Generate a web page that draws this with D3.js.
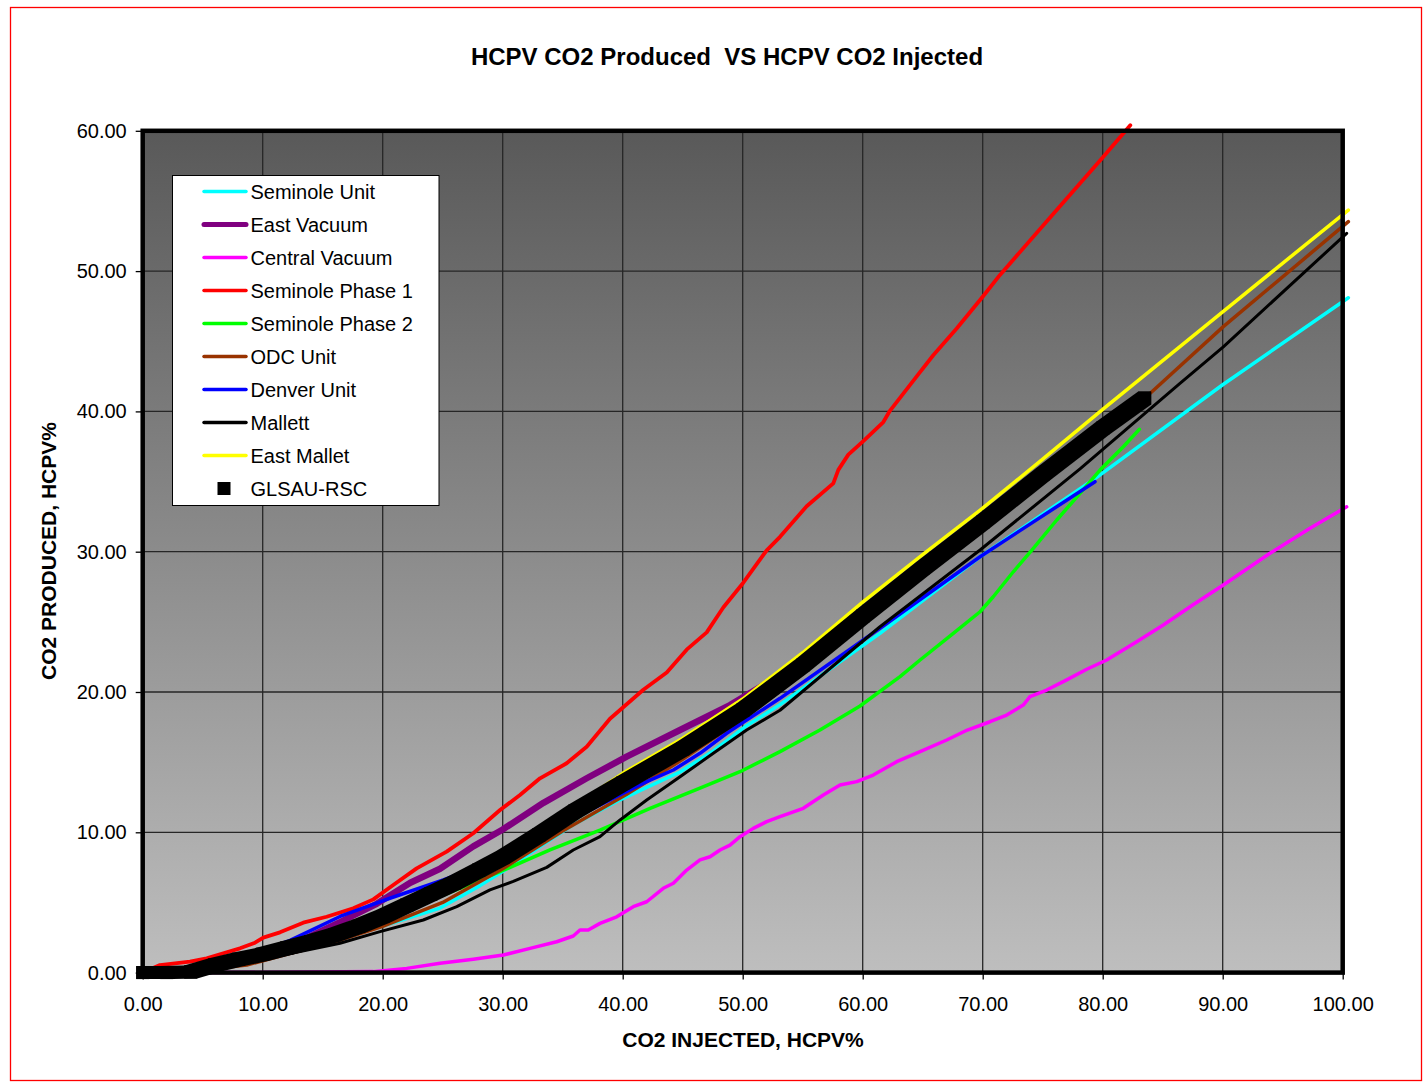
<!DOCTYPE html>
<html>
<head>
<meta charset="utf-8">
<script src="https://cdn.jsdelivr.net/npm/d3@7/dist/d3.min.js"></script>
<style>
  html, body { margin: 0; padding: 0; background: #ffffff; }
  svg { display: block; }
  text { font-family: "Liberation Sans", Arial, Helvetica, sans-serif; fill: #000; }
</style>
</head>
<body>
<svg id="chart" width="1427" height="1083"></svg>
<script>
// ---- series values: [CO2 injected %HCPV, CO2 produced %HCPV] ----
const seminoleUnit = [[0,0],[4,0.05],[8,0.8],[12,1.5],[16,2.4],[19.78,3.27],[24.78,4.6],[28.11,6.2],[30,7.2],[33.67,9.3],[36,10.6],[39.5,12.2],[44.78,14.3],[47.55,15.8],[50.33,17.6],[53.11,19.1],[61.44,24.18],[69.78,29.64],[79.5,35.3],[90,41.9],[100.47,48.1]];
const eastVacuum = [[0,0],[4,0.1],[8,0.9],[12,1.8],[16.44,3.6],[19.5,4.9],[22.3,6.4],[24.78,7.4],[27.55,9.0],[30,10.2],[33.4,12.1],[37,13.85],[40.33,15.39],[44.78,17.29],[48.94,19.07],[52,20.62],[54.5,21.7]];
const centralVacuum = [[0,0],[6.5,0],[19.2,0.07],[22,0.3],[24.78,0.66],[27.55,0.95],[30.05,1.25],[32.28,1.73],[34.5,2.2],[35.88,2.61],[36.44,3.04],[37.13,3.04],[38.11,3.51],[39.5,3.98],[40.88,4.7],[42,5.05],[43.38,6.01],[44.22,6.37],[45.33,7.31],[46.44,8.03],[47.28,8.26],[48.11,8.74],[48.94,9.09],[49.78,9.69],[50.88,10.28],[52,10.76],[53.11,11.11],[55.05,11.71],[56.72,12.66],[58.11,13.37],[59.5,13.61],[60.88,14.08],[62.83,15.03],[64.78,15.75],[67,16.58],[68.72,17.29],[70.61,17.88],[72,18.36],[73.38,19.07],[73.94,19.67],[75.33,20.14],[77,20.86],[78.67,21.62],[80.33,22.28],[82.83,23.58],[85.05,24.78],[87.5,26.2],[90.05,27.63],[93.94,29.89],[97.28,31.67],[100.33,33.2]];
const seminolePhase1 = [[0,0],[1.44,0.54],[3.94,0.78],[5.33,1.02],[8.11,1.73],[9.36,2.13],[10.05,2.49],[11.44,2.87],[13.38,3.56],[15.33,3.98],[17.55,4.58],[19.22,5.22],[20.88,6.24],[22.83,7.43],[25.33,8.62],[27.55,9.93],[29.78,11.59],[31.44,12.66],[33.11,13.85],[35.33,14.92],[37,16.1],[38.94,18.09],[41.72,20.16],[43.67,21.39],[45.33,23.02],[47,24.25],[48.38,26.02],[50.05,27.79],[52,30.1],[53.11,31.06],[55.33,33.24],[57.55,34.87],[57.97,35.83],[58.8,36.92],[60.05,37.88],[61.72,39.24],[62.28,40.06],[64.5,42.5],[65.88,44.0],[67.83,45.91],[70.05,48.23],[71.44,49.73],[76,54.2],[80,58.1],[82.3,60.4]];
const seminolePhase2 = [[0,0],[4,0.05],[10,1.2],[15,2.4],[20,3.9],[25,5.5],[29.78,7.19],[33.94,8.74],[38.11,10.16],[42.28,11.71],[46.44,13.14],[49.78,14.32],[53.11,15.75],[56.44,17.29],[59.78,19.0],[63.11,21.09],[64.78,22.28],[67.55,24.18],[69.78,25.72],[70.88,26.79],[72.55,28.57],[74.22,30.24],[76.17,32.26],[78.11,34.16],[79.78,35.82],[81.72,37.48],[83.05,38.72]];
const odcUnit = [[0,0],[4,0.1],[8.67,0.54],[12,1.3],[16,2.2],[20,3.3],[25,5.0],[30,7.4],[35,10.1],[40.3,12.7],[45,15.2],[50,18.1],[55,21.3],[60,24.8],[65,28.2],[70,31.5],[75,34.9],[80,38.3],[84.1,41.4],[90.05,46.04],[100.47,53.52]];
const denverUnit = [[0,0],[4,0.1],[8,0.9],[12.28,2.3],[16.44,4.0],[20.6,5.3],[25.05,6.6],[30,8.2],[35,10.6],[40.05,12.78],[42,13.61],[44.22,14.44],[46.44,15.63],[48.67,17.06],[50.33,18.0],[53.11,19.55],[61.44,24.54],[69.78,29.64],[79.36,34.99]];
const mallett = [[0,0],[4.3,0],[8,0.6],[12,1.3],[16.44,2.09],[19.78,2.92],[23.38,3.75],[26.17,4.7],[28.94,5.89],[30.88,6.5],[33.67,7.5],[35.88,8.74],[38.11,9.69],[39.78,10.88],[42,12.3],[44.78,13.96],[47.55,15.63],[50.33,17.29],[53.11,18.7],[61.44,24.65],[69.78,30.12],[78.11,35.9],[86.44,42.0],[90.05,44.6],[100.33,52.69]];
const eastMallet = [[0,0],[4,0.15],[8,1.2],[10.05,1.65],[15,2.8],[20,4.3],[25,6.3],[30,8.5],[35,11.3],[40,14.2],[45,16.7],[50,19.5],[55,22.8],[60,26.4],[65,29.8],[70,33.1],[75,36.6],[80,40.15],[90,47.1],[100.47,54.35]];
const glsauRsc = [[0,0],[2,0],[4,0.05],[6,0.55],[8,0.95],[10,1.3],[12,1.75],[14,2.2],[16,2.7],[18,3.3],[20,4.0],[22,4.8],[24,5.6],[26,6.4],[28,7.3],[30,8.2],[33,9.8],[36,11.5],[40,13.5],[45,15.95],[50,18.7],[55,21.9],[60,25.4],[65,28.8],[70,32.1],[75,35.5],[80,38.8],[83.5,40.95]];

const seriesNames = ["Seminole Unit","East Vacuum","Central Vacuum","Seminole Phase 1","Seminole Phase 2","ODC Unit","Denver Unit","Mallett","East Mallet","GLSAU-RSC"];
const seriesColors = ["#00ffff","#800080","#ff00ff","#ff0000","#00ff00","#993300","#0000ff","#000000","#ffff00","#000000"];
const seriesData = [seminoleUnit,eastVacuum,centralVacuum,seminolePhase1,seminolePhase2,odcUnit,denverUnit,mallett,eastMallet,glsauRsc];
const seriesWidths = [3.5,6.5,3.5,3.8,3.5,3.5,3.5,3,3.5,0];

const xTickValues = [0,10,20,30,40,50,60,70,80,90,100];
const yTickValues = [0,10,20,30,40,50,60];

const titleText = "HCPV CO2 Produced  VS HCPV CO2 Injected";
const xTitle = "CO2 INJECTED, HCPV%";
const yTitle = "CO2 PRODUCED, HCPV%";

// ---- layout ----
const svg = d3.select("#chart");
const plot = { left: 142.7, right: 1342.7, top: 130.8, bottom: 972.6 };
const x = d3.scaleLinear().domain([0, 100]).range([plot.left, plot.right]);
const y = d3.scaleLinear().domain([0, 60]).range([plot.bottom, plot.top]);
const fmt = d3.format(".2f");

svg.append("rect").attr("x", 0).attr("y", 0).attr("width", 1427).attr("height", 1083).attr("fill", "#fff");
// outer chart frame
svg.append("rect").attr("x", 10.5).attr("y", 7.5).attr("width", 1411).attr("height", 1073)
  .attr("fill", "none").attr("stroke", "#ff0000").attr("stroke-width", 1.3);

// plot-area gradient
const defs = svg.append("defs");
const grad = defs.append("linearGradient").attr("id", "plotBg").attr("x1", 0).attr("y1", 0).attr("x2", 0).attr("y2", 1);
grad.append("stop").attr("offset", "0%").attr("stop-color", "#595959");
grad.append("stop").attr("offset", "100%").attr("stop-color", "#bebebe");

svg.append("rect").attr("x", plot.left).attr("y", plot.top)
  .attr("width", plot.right - plot.left).attr("height", plot.bottom - plot.top)
  .attr("fill", "url(#plotBg)");

// gridlines
const grid = svg.append("g").attr("stroke", "#262626").attr("stroke-width", 1.3);
xTickValues.forEach(v => grid.append("line").attr("x1", x(v)).attr("x2", x(v)).attr("y1", plot.top).attr("y2", plot.bottom));
yTickValues.forEach(v => grid.append("line").attr("y1", y(v)).attr("y2", y(v)).attr("x1", plot.left).attr("x2", plot.right));

// axes (ticks + labels)
const xAxis = d3.axisBottom(x).tickValues(xTickValues).tickFormat(fmt).tickSize(7).tickPadding(17);
const yAxis = d3.axisLeft(y).tickValues(yTickValues).tickFormat(fmt).tickSize(7).tickPadding(9);
const gx = svg.append("g").attr("transform", `translate(0,${plot.bottom})`).call(xAxis);
const gy = svg.append("g").attr("transform", `translate(${plot.left},0)`).call(yAxis);
[gx, gy].forEach(g => {
  g.select(".domain").remove();
  g.selectAll(".tick line").attr("stroke", "#000").attr("stroke-width", 1.3);
  g.selectAll(".tick text").style("font-size", "20px").attr("fill", "#000");
});
gx.selectAll(".tick text").attr("dy", "0.71em");

// series lines
const line = d3.line().x(d => x(d[0])).y(d => y(d[1]));
const linesG = svg.append("g").attr("fill", "none").attr("stroke-linejoin", "round").attr("stroke-linecap", "round");
seriesData.forEach((data, i) => {
  if (seriesNames[i] === "GLSAU-RSC") return;
  linesG.append("path").datum(data).attr("d", line)
    .attr("stroke", seriesColors[i]).attr("stroke-width", seriesWidths[i]);
});

// GLSAU-RSC: dense square markers, drawn as the sweep of a 13px square along the points
const sq = 13, h = sq / 2;
const markG = svg.append("g").attr("fill", "#000");
const pts = glsauRsc.map(d => [x(d[0]), y(d[1])]);
for (let i = 0; i < pts.length - 1; i++) {
  const [ax, ay] = pts[i], [bx, by] = pts[i + 1];
  const corners = [];
  [[ax, ay], [bx, by]].forEach(([cx, cy]) => {
    corners.push([cx - h, cy - h], [cx + h, cy - h], [cx + h, cy + h], [cx - h, cy + h]);
  });
  const hull = d3.polygonHull(corners);
  markG.append("path").attr("d", "M" + hull.join("L") + "Z");
}
markG.selectAll("rect.m").data(pts).join("rect").attr("class", "m")
  .attr("x", d => d[0] - h).attr("y", d => d[1] - h).attr("width", sq).attr("height", sq);

// plot border
svg.append("rect").attr("x", plot.left).attr("y", plot.top)
  .attr("width", plot.right - plot.left).attr("height", plot.bottom - plot.top)
  .attr("fill", "none").attr("stroke", "#000").attr("stroke-width", 4.5);

// titles
svg.append("text").attr("x", 727).attr("y", 65).attr("text-anchor", "middle")
  .style("font-size", "24px").style("font-weight", "bold").style("white-space", "pre").text(titleText);
svg.append("text").attr("x", 743).attr("y", 1047).attr("text-anchor", "middle")
  .style("font-size", "21px").style("font-weight", "bold").text(xTitle);
svg.append("text").attr("transform", "translate(56,551) rotate(-90)").attr("text-anchor", "middle")
  .style("font-size", "21px").style("font-weight", "bold").text(yTitle);

// legend
const lg = svg.append("g");
lg.append("rect").attr("x", 172.5).attr("y", 175.5).attr("width", 266.5).attr("height", 330)
  .attr("fill", "#fff").attr("stroke", "#000").attr("stroke-width", 1);
seriesNames.forEach((name, i) => {
  const cy = 191.5 + i * 33;
  if (name === "GLSAU-RSC") {
    lg.append("rect").attr("x", 224 - h).attr("y", cy - h).attr("width", sq).attr("height", sq).attr("fill", "#000");
  } else {
    lg.append("line").attr("x1", 204).attr("x2", 246).attr("y1", cy).attr("y2", cy)
      .attr("stroke", seriesColors[i]).attr("stroke-width", name === "East Vacuum" ? 5 : 3.5)
      .attr("stroke-linecap", "round");
  }
  lg.append("text").attr("x", 250.5).attr("y", cy + 7).style("font-size", "20px").text(name);
});
</script>
</body>
</html>
